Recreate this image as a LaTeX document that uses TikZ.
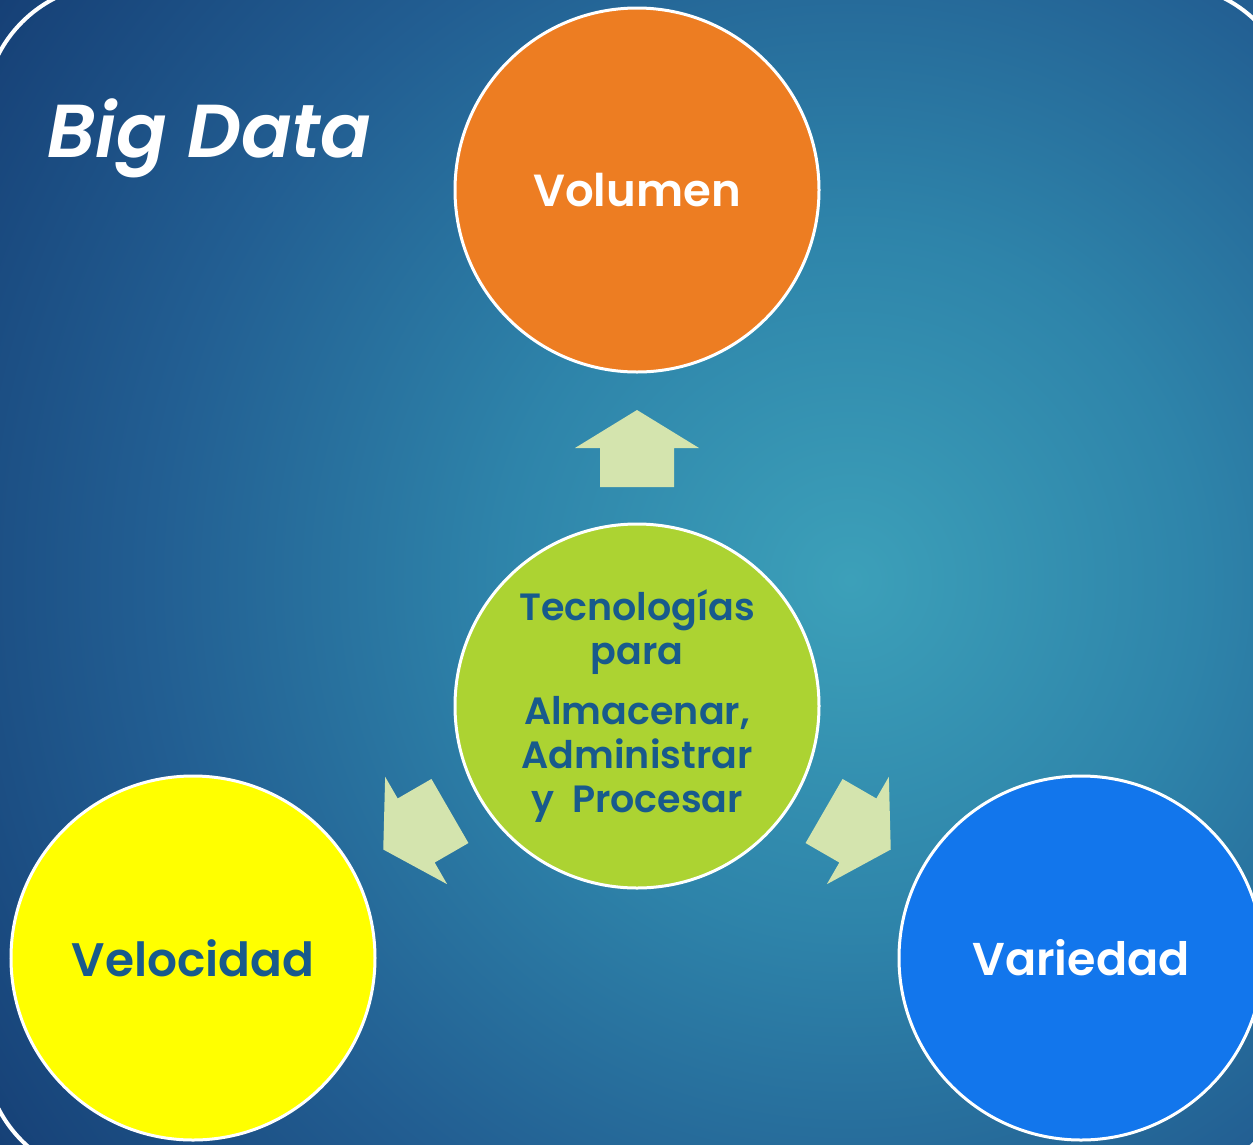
\documentclass[tikz,border=0pt]{standalone}
\usepackage{fontspec}
\setmainfont{Poppins}[BoldFont={Poppins SemiBold},BoldItalicFont={Poppins SemiBold Italic}]
\definecolor{bgdeep}{RGB}{22,64,118}
\definecolor{bgedge}{RGB}{34,94,146}
\definecolor{bgmid}{RGB}{46,132,170}
\definecolor{bgcore}{RGB}{60,160,185}
\definecolor{volorange}{RGB}{237,125,34}
\definecolor{techgreen}{RGB}{172,211,50}
\definecolor{velyellow}{RGB}{255,255,0}
\definecolor{varblue}{RGB}{18,118,236}
\definecolor{arrowgreen}{RGB}{212,228,174}
\definecolor{inkblue}{RGB}{24,90,140}
\pgfdeclareradialshading{bgglow}{\pgfpoint{0bp}{0bp}}{color(0bp)=(bgcore); color(8.5bp)=(bgmid); color(17bp)=(bgedge); color(25bp)=(bgdeep); color(50bp)=(bgdeep)}

\begin{document}
\begin{tikzpicture}[x=1pt,y=-1pt,
		bubble/.style={circle,draw=white,line width=3pt,minimum size=364pt,inner sep=0pt,align=center},
		blockarrow/.style={fill=arrowgreen}]
		\useasboundingbox (0,0) rectangle (1253,1144);
		% background and frame
		\begin{scope}
			\clip (0,0) rectangle (1253,1144);
			\fill[bgdeep] (0,0) rectangle (1253,1144);
			\shade[shading=bgglow] (850,580) circle (1030);
			\draw[white,line width=4pt,rounded corners=130pt] (-16,-16) rectangle (1295,1179);
		\end{scope}
		% title
		\node[anchor=base west,inner sep=0pt,text=white,font=\bfseries\itshape\fontsize{75}{90}\selectfont] (title) at (47,157) {Big Data};
		% the three V's and the centre
		\node[bubble,fill=volorange,text=white,font=\bfseries\fontsize{45}{54}\selectfont] (volumen) at (637,190) {Volumen};
		\node[bubble,fill=techgreen,text=inkblue,font=\bfseries\fontsize{38}{44}\selectfont] (tecno) at (637,706)
			{Tecnologías\\para\\[16pt]Almacenar,\\Administrar\\y\ \ Procesar};
		\node[bubble,fill=velyellow,text=inkblue,font=\bfseries\fontsize{47}{56}\selectfont] (velocidad) at (193,958) {Velocidad};
		\node[bubble,fill=varblue,text=white,font=\bfseries\fontsize{46}{56}\selectfont] (variedad) at (1081,958) {Variedad};
		% block arrows from the centre
		\foreach \turn in {0,120,-120}
			\fill[blockarrow,shift={(637,703)},rotate=\turn] (-37,-216) -- (-37,-255) -- (-62,-255) -- (0,-293) -- (62,-255) -- (37,-255) -- (37,-216) -- cycle;
	\end{tikzpicture}
\end{document}
